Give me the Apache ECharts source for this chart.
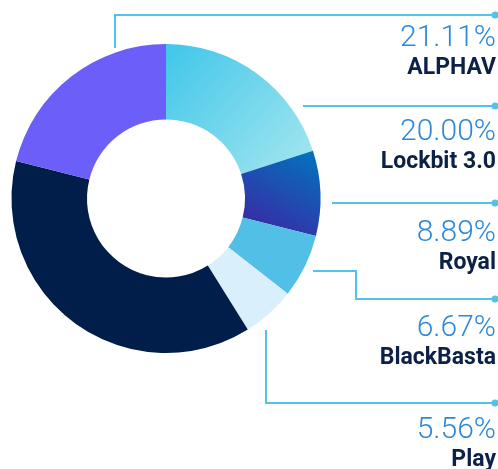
<!DOCTYPE html>
<html>
<head>
<meta charset="utf-8">
<script src="https://cdn.jsdelivr.net/npm/echarts@6/dist/echarts.min.js"></script>
<style>
  html, body { margin: 0; padding: 0; background: #fff; }
  #chart { width: 498px; height: 469px; }
</style>
</head>
<body>
<div id="chart"></div>
<script>
// data, clockwise from 12 o'clock
const names = ['Lockbit 3.0', 'Royal', 'BlackBasta', 'Play', 'Other', 'ALPHAV'];
const values = [20.00, 8.89, 6.67, 5.56, 37.77, 21.11];
const percentLabels = ['20.00%', '8.89%', '6.67%', '5.56%', '', '21.11%'];

const lineColor = '#52c3ea';

// slice fills
const fills = [
  new echarts.graphic.LinearGradient(0, 0, 1, 1, [
    { offset: 0, color: '#40c6ea' },
    { offset: 1, color: '#a6e7ef' },
  ]),
  new echarts.graphic.LinearGradient(0.8, 0, 0.2, 1, [
    { offset: 0, color: '#0570bd' },
    { offset: 1, color: '#3b27a3' },
  ]),
  '#52bfe6',
  '#daeffc',
  '#001e49',
  '#6c5ef9',
];

// leader lines + label positions (pixels)
const leaders = {
  'ALPHAV': { top: 23, pts: [[115, 48], [115, 15], [495, 15]] },
  'Lockbit 3.0': { top: 117, pts: [[303, 106], [400, 106], [495, 106]] },
  'Royal': { top: 218, pts: [[332, 203], [400, 203], [495, 203]] },
  'BlackBasta': { top: 313, pts: [[313, 271], [356, 271], [356, 299], [495, 299]] },
  'Play': { top: 415, pts: [[266, 330], [266, 403], [495, 403]] },
};

const chart = echarts.init(document.getElementById('chart'));

chart.setOption({
  animation: false,
  graphic: Object.keys(leaders).map((k) => {
    const p = leaders[k].pts;
    const end = p[p.length - 1];
    return {
      type: 'circle',
      shape: { cx: end[0], cy: end[1], r: 3.5 },
      style: { fill: lineColor },
      z: 10,
    };
  }),
  series: [
    {
      type: 'pie',
      center: [166, 198.5],
      radius: [79, 154.5],
      startAngle: 90,
      clockwise: true,
      avoidLabelOverlap: false,
      data: names.map((n, i) => ({
        name: n,
        value: values[i],
        itemStyle: { color: fills[i] },
        label: { show: n !== 'Other' },
        labelLine: { show: n !== 'Other' },
      })),
      label: {
        formatter: (p) => `{p|${percentLabels[p.dataIndex]}}\n{n|${p.name}}`,
        align: 'right',
        rich: {
          p: {
            fontFamily: 'Roboto',
            fontWeight: 300,
            fontSize: 30,
            lineHeight: 30,
            color: '#2d89d8',
            align: 'right',
          },
          n: {
            fontFamily: 'Roboto',
            fontWeight: 'bold',
            fontSize: 23,
            lineHeight: 30,
            color: '#0c2147',
            align: 'right',
          },
        },
      },
      labelLine: {
        lineStyle: { color: lineColor, width: 2 },
      },
      labelLayout: (params) => {
        const l = leaders[names[params.dataIndex]];
        if (!l) return {};
        return {
          x: 496,
          y: l.top,
          align: 'right',
          verticalAlign: 'top',
          labelLinePoints: l.pts,
        };
      },
    },
  ],
});
</script>
</body>
</html>
